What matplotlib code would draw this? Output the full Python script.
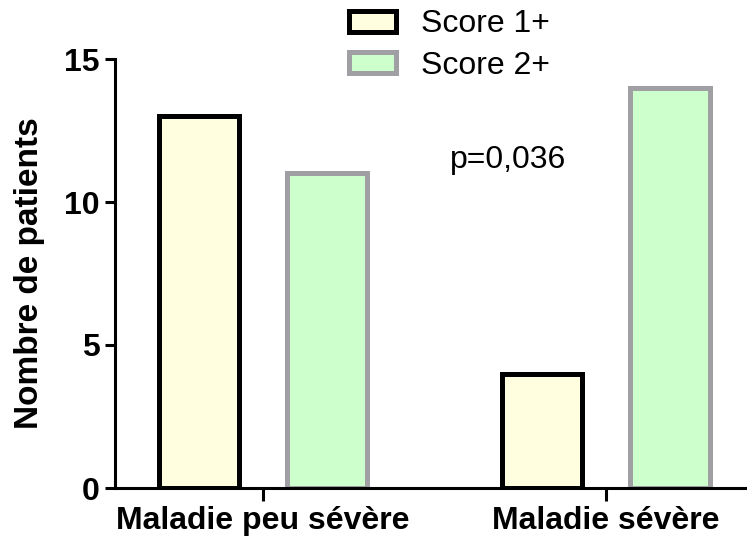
import matplotlib
matplotlib.use("Agg")
import matplotlib.pyplot as plt
from matplotlib.patches import Patch
import numpy as np

categories = ["Maladie peu sévère", "Maladie sévère"]
series_names = ["Score 1+", "Score 2+"]
score1 = [13, 4]
score2 = [11, 14]
y_ticks = [0, 5, 10, 15]
annotation = "p=0,036"

plt.rcParams['font.family'] = ['Liberation Sans', 'DejaVu Sans']

W, H = 747, 539
fig = plt.figure(figsize=(W / 100, H / 100), dpi=100)
ax = fig.add_axes([115 / W, 1 - 488 / H, (W - 115) / W, (488 - 59) / H])

x = np.arange(len(categories))
bw = 0.233
off = 0.187
fill1, edge1 = "#FFFFE0", "#000000"
fill2, edge2 = "#CCFFCC", "#A0A0A4"
ax.bar(x - off, score1, width=bw, color=fill1, edgecolor=edge1, linewidth=3.6, zorder=3)
ax.bar(x + off, score2, width=bw, color=fill2, edgecolor=edge2, linewidth=3.6, zorder=3)

ax.set_xlim(-0.431, 1.411)
ax.set_ylim(0, 15)
ax.set_yticks(y_ticks)
ax.set_xticks(x)
ax.set_xticklabels(categories, fontsize=23, fontweight='bold')
ax.tick_params(axis='y', labelsize=23, width=2.2, length=7, pad=4)
for lbl in ax.get_yticklabels():
    lbl.set_fontweight('bold')
ax.tick_params(axis='x', width=2.2, length=9, pad=4)

for s in ['top', 'right']:
    ax.spines[s].set_visible(False)
for s in ['left', 'bottom']:
    ax.spines[s].set_linewidth(2.2)
ax.spines['bottom'].set_zorder(4)

ax.set_ylabel("Nombre de patients", fontsize=24, fontweight='bold')
ax.yaxis.set_label_coords(-0.111, 0.5)

ax.text(0.715, 11.47, annotation, fontsize=23, ha='center', va='center')

handles = [Patch(facecolor=fill1, edgecolor=edge1, linewidth=3.6),
           Patch(facecolor=fill2, edgecolor=edge2, linewidth=3.6)]
fig.legend(handles, series_names, loc='upper left', bbox_to_anchor=(343 / W, 1 - 3 / H),
           frameon=False, fontsize=23, handlelength=1.45, handleheight=0.65,
           handletextpad=0.8, labelspacing=0.35, borderaxespad=0, borderpad=0.2)

fig.savefig("out.png", dpi=100)
